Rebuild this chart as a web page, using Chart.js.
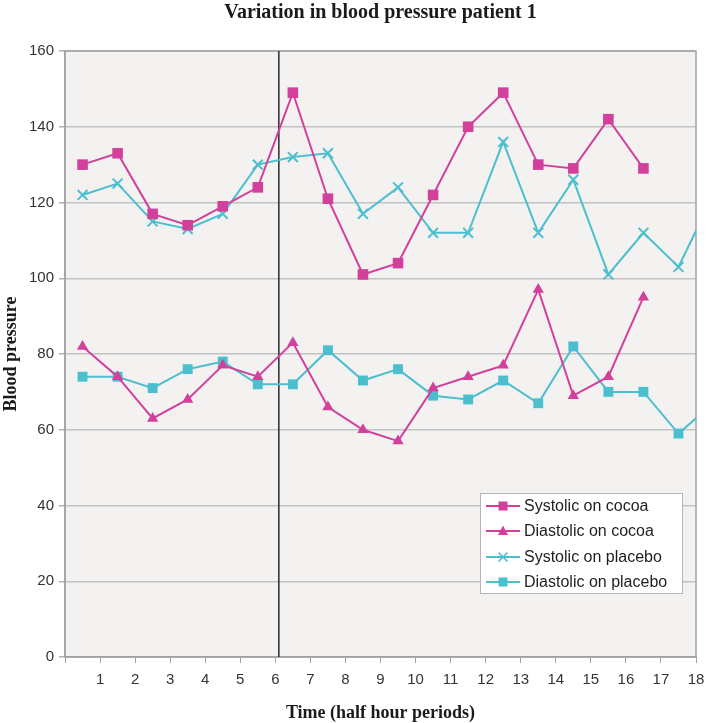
<!DOCTYPE html>
<html>
<head>
<meta charset="utf-8">
<script src="https://cdn.jsdelivr.net/npm/chart.js@4/dist/chart.umd.min.js"></script>
<style>
  html, body { margin: 0; padding: 0; background: #ffffff; }
  #wrap { width: 706px; height: 723px; position: relative; }
</style>
</head>
<body>
<div id="wrap"><canvas id="c" width="706" height="723"></canvas></div>
<script>
// ---- data ----
const chartTitle = "Variation in blood pressure patient 1";
const xAxisTitle = "Time (half hour periods)";
const yAxisTitle = "Blood pressure";
const timePoints = [0.5, 1.5, 2.5, 3.5, 4.5, 5.5, 6.5, 7.5, 8.5, 9.5, 10.5, 11.5, 12.5, 13.5, 14.5, 15.5, 16.5, 17.5, 18.5];
const systolicCocoa  = [130, 133, 117, 114, 119, 124, 149, 121, 101, 104, 122, 140, 149, 130, 129, 142, 129];
const diastolicCocoa = [82, 74, 63, 68, 77, 74, 83, 66, 60, 57, 71, 74, 77, 97, 69, 74, 95];
const systolicPlacebo  = [122, 125, 115, 113, 117, 130, 132, 133, 117, 124, 112, 112, 136, 112, 126, 101, 112, 103, 122];
const diastolicPlacebo = [74, 74, 71, 76, 78, 72, 72, 81, 73, 76, 69, 68, 73, 67, 82, 70, 70, 59, 67];
const seriesNames = ["Systolic on cocoa", "Diastolic on cocoa", "Systolic on placebo", "Diastolic on placebo"];
const xTickValues = [1, 2, 3, 4, 5, 6, 7, 8, 9, 10, 11, 12, 13, 14, 15, 16, 17, 18];
const yTickValues = [0, 20, 40, 60, 80, 100, 120, 140, 160];
const switchTime = 6.1;

// ---- styles ----
const MAGENTA = "#d2409c";
const CYAN = "#4cbfcf";

function toPoints(vals) {
  return vals.map((v, i) => ({ x: timePoints[i], y: v }));
}

const datasets = [
  { label: seriesNames[0], data: toPoints(systolicCocoa), borderColor: MAGENTA, backgroundColor: MAGENTA,
    pointStyle: 'rect', pointRadius: 7.5, pointHoverRadius: 7.5, borderWidth: 2, pointBorderWidth: 0 },
  { label: seriesNames[1], data: toPoints(diastolicCocoa), borderColor: MAGENTA, backgroundColor: MAGENTA,
    pointStyle: 'triangle', pointRadius: 6.5, pointHoverRadius: 6.5, borderWidth: 2, pointBorderWidth: 0 },
  { label: seriesNames[2], data: toPoints(systolicPlacebo), borderColor: CYAN, backgroundColor: CYAN,
    pointStyle: 'crossRot', pointRadius: 7, pointHoverRadius: 7, borderWidth: 2, pointBorderWidth: 2, pointBorderColor: CYAN },
  { label: seriesNames[3], data: toPoints(diastolicPlacebo), borderColor: CYAN, backgroundColor: CYAN,
    pointStyle: 'rect', pointRadius: 7, pointHoverRadius: 7, borderWidth: 2, pointBorderWidth: 0 }
];
datasets.forEach(d => { d.tension = 0; d.fill = false; d.pointBackgroundColor = d.backgroundColor; });

const decorPlugin = {
  id: 'decor',
  beforeDraw(chart) {
    const { ctx, chartArea: a } = chart;
    ctx.save();
    ctx.fillStyle = "#f3f2f1";
    ctx.fillRect(a.left, a.top, a.right - a.left, a.bottom - a.top);
    ctx.restore();
  },
  beforeDatasetsDraw(chart) {
    const { ctx, chartArea: a, scales } = chart;
    ctx.save();
    ctx.strokeStyle = "#a3a3a3";
    ctx.lineWidth = 1.5;
    ctx.strokeRect(a.left, a.top, a.right - a.left, a.bottom - a.top);
    const xp = scales.x.getPixelForValue(switchTime);
    ctx.strokeStyle = "#2b2b2b";
    ctx.lineWidth = 1.5;
    ctx.beginPath();
    ctx.moveTo(xp, a.top);
    ctx.lineTo(xp, a.bottom);
    ctx.stroke();
    ctx.restore();
  },
  afterDraw(chart) {
    const { ctx, chartArea: a } = chart;
    ctx.save();
    ctx.fillStyle = "#1a1a1a";
    ctx.textAlign = "center";
    ctx.textBaseline = "middle";
    ctx.font = "bold 20px 'Liberation Serif', 'Times New Roman', serif";
    ctx.fillText(chartTitle, (a.left + a.right) / 2, 13);
    ctx.font = "bold 18px 'Liberation Serif', 'Times New Roman', serif";
    ctx.fillText(xAxisTitle, (a.left + a.right) / 2, 713);
    ctx.translate(11, (a.top + a.bottom) / 2);
    ctx.rotate(-Math.PI / 2);
    ctx.fillText(yAxisTitle, 0, 0);
    ctx.restore();

    // legend
    ctx.save();
    const bx = 480, by = 493, bw = 202, bh = 100;
    ctx.fillStyle = "#ffffff";
    ctx.fillRect(bx, by, bw, bh);
    ctx.strokeStyle = "#b5b5b5";
    ctx.lineWidth = 1;
    ctx.strokeRect(bx + 0.5, by + 0.5, bw, bh);
    const rowY = [506, 531, 557, 582];
    chart.data.datasets.forEach((d, i) => {
      const y = rowY[i];
      ctx.strokeStyle = d.borderColor;
      ctx.lineWidth = 2;
      ctx.beginPath();
      ctx.moveTo(486, y);
      ctx.lineTo(520, y);
      ctx.stroke();
      const cx = 503;
      ctx.fillStyle = d.backgroundColor;
      if (d.pointStyle === 'rect') {
        ctx.fillRect(cx - 4.5, y - 4.5, 9, 9);
      } else if (d.pointStyle === 'triangle') {
        ctx.beginPath();
        ctx.moveTo(cx, y - 5.5);
        ctx.lineTo(cx + 5, y + 4);
        ctx.lineTo(cx - 5, y + 4);
        ctx.closePath();
        ctx.fill();
      } else {
        ctx.lineWidth = 1.6;
        ctx.beginPath();
        ctx.moveTo(cx - 4.5, y - 4.5); ctx.lineTo(cx + 4.5, y + 4.5);
        ctx.moveTo(cx + 4.5, y - 4.5); ctx.lineTo(cx - 4.5, y + 4.5);
        ctx.stroke();
      }
      ctx.fillStyle = "#1e1e1e";
      ctx.font = "16px 'Liberation Sans', Arial, sans-serif";
      ctx.textAlign = "left";
      ctx.textBaseline = "middle";
      ctx.fillText(d.label, 524, y + 1);
    });
    ctx.restore();
  }
};

new Chart(document.getElementById('c'), {
  type: 'line',
  data: { datasets },
  options: {
    responsive: false,
    animation: false,
    events: [],
    layout: { padding: { top: 51, right: 10, left: 0, bottom: 0 } },
    plugins: { legend: { display: false }, title: { display: false }, tooltip: { enabled: false } },
    scales: {
      x: {
        type: 'linear', min: 0, max: 18,
        afterFit(s) { s.height = 66; s.paddingLeft = 0; s.paddingRight = 0; },
        afterBuildTicks(s) { s.ticks = [0].concat(xTickValues).map(v => ({ value: v })); },
        ticks: {
          callback: v => (v === 0 ? '' : String(v)),
          font: { family: "'Liberation Sans', Arial, sans-serif", size: 15 },
          color: '#333333', padding: 8, maxRotation: 0, autoSkip: false
        },
        grid: { drawOnChartArea: false, drawTicks: true, tickLength: 6, color: '#a3a3a3' },
        border: { display: true, color: '#a3a3a3', width: 1.5 }
      },
      y: {
        type: 'linear', min: 0, max: 160,
        afterFit(s) { s.width = 65; s.paddingTop = 0; s.paddingBottom = 0; },
        afterBuildTicks(s) { s.ticks = yTickValues.map(v => ({ value: v })); },
        ticks: {
          font: { family: "'Liberation Sans', Arial, sans-serif", size: 15 },
          color: '#333333', padding: 5
        },
        grid: { color: '#c2c2c2', lineWidth: 1.5, drawTicks: true, tickLength: 6, tickColor: '#b0b0b0' },
        border: { display: true, color: '#a3a3a3', width: 1.5 }
      }
    }
  },
  plugins: [decorPlugin]
});
</script>
</body>
</html>
